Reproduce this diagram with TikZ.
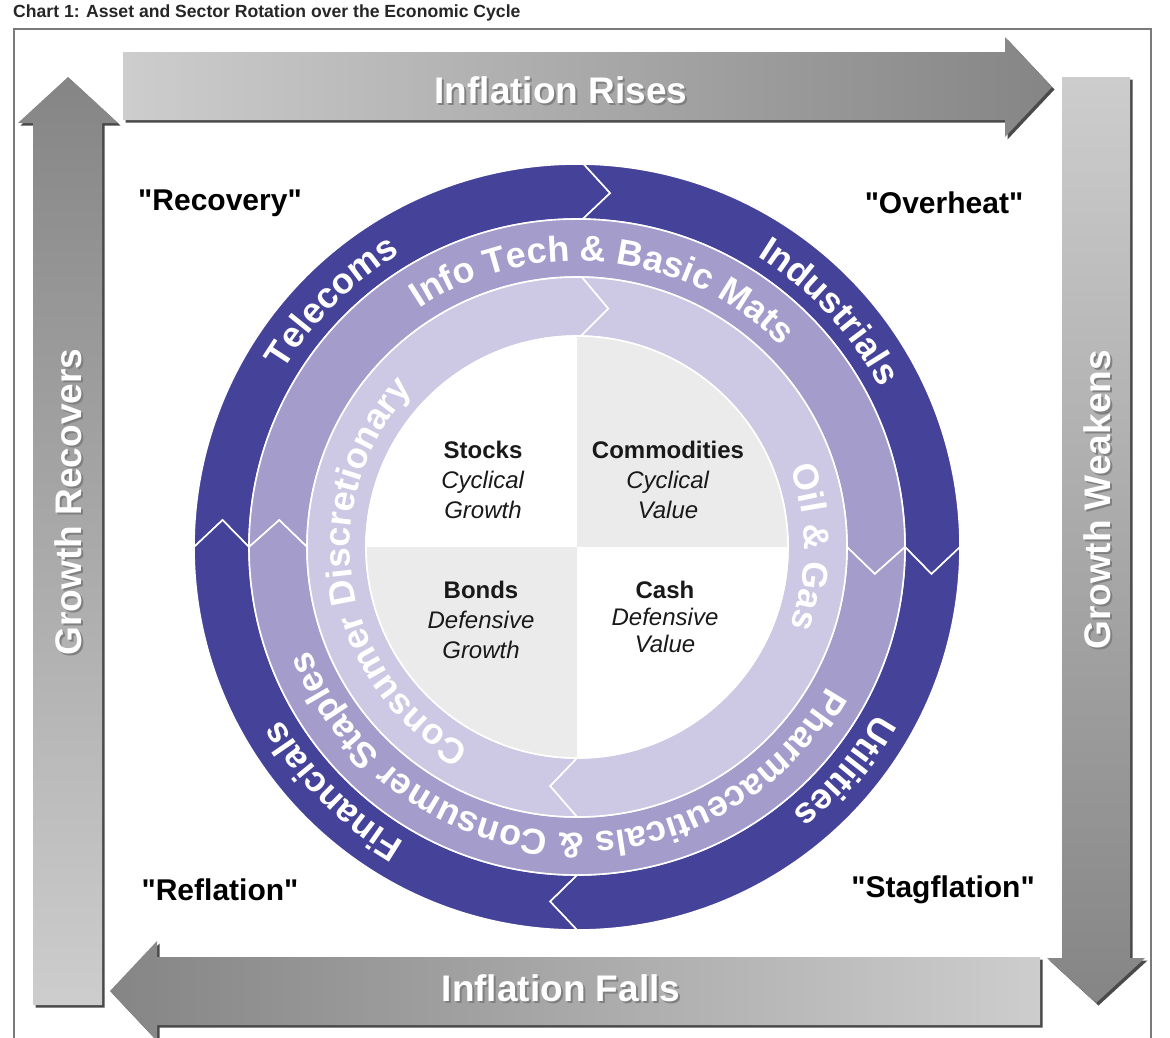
\documentclass[tikz,border=0pt]{standalone}
\usepackage{fontspec}
\setmainfont{Liberation Sans}
\newfontfamily\plainquotefont{Liberation Sans}
\usetikzlibrary{decorations.text}
\definecolor{darkring}{HTML}{45429A}
\definecolor{midring}{HTML}{A49DCC}
\definecolor{lightring}{HTML}{CDC8E3}
\definecolor{quadgray}{HTML}{EBEBEB}
\definecolor{arrowdark}{HTML}{858585}
\definecolor{arrowlight}{HTML}{CDCDCD}
\definecolor{shadowgray}{HTML}{4A4A4A}
\definecolor{framegray}{HTML}{7A7A7A}
\newcommand\ringseg[5]{%
  \pgfmathsetmacro\rsegmid{(#1+#2)/2}%
  \pgfmathsetmacro\rsegdd{27/\rsegmid*180/pi}%
  \pgfmathsetmacro\rsegaa{#3-\rsegdd}%
  \pgfmathsetmacro\rsegbb{#4-\rsegdd}%
  \filldraw[fill=#5, draw=white, line width=1.6pt, line join=miter]
    (#3:#2) arc[start angle=#3, end angle=#4, radius=#2]
    -- (\rsegbb:\rsegmid) -- (#4:#1)
    arc[start angle=#4, end angle=#3, radius=#1]
    -- (\rsegaa:\rsegmid) -- cycle;}
\newcommand\ringfont{\fontsize{36}{40}\selectfont\bfseries}
\newcommand\ringlabel[4]{%
  \path[decorate, decoration={text along path, text={|\ringfont|#4}, text align=center, text color=white}]
    (#2:#1) arc[start angle=#2, end angle=#3, radius=#1];}
\newcommand\qq{{\plainquotefont\bfseries"}}
\tikzset{
  arrowlbl/.style={text=white, font=\fontsize{37}{40}\selectfont\bfseries, inner sep=0pt},
  arrowshadow/.style={text=black!50, font=\fontsize{37}{40}\selectfont\bfseries, inner sep=0pt},
  phase/.style={text=black, font=\fontsize{30}{34}\selectfont\bfseries, inner sep=0pt},
  quadtxt/.style={text=black!90, font=\fontsize{24}{30}\selectfont, align=center, inner sep=0pt},
  arrshadow/.style={fill=shadowgray},
}
\begin{document}
\begin{tikzpicture}[x=1pt,y=1pt]
\useasboundingbox (0,0) rectangle (1170,-1037);
\fill[white] (0,0) rectangle (1170,-1037);
% title
\node[anchor=west, inner sep=0pt, font=\fontsize{17.6}{19}\selectfont\bfseries, text=black!85] (title) at (13,-13) {Chart 1: Asset and Sector Rotation over the Economic Cycle};
% frame
\draw[framegray, line width=2pt] (14,-1060) -- (14,-29) -- (1151,-29) -- (1151,-1060);

% top arrow
\fill[arrshadow, shift={(2.5,-2.5)}] (123,-52) -- (1005,-52) -- (1005,-37) -- (1052,-87) -- (1005,-137) -- (1005,-120) -- (123,-120) -- cycle;
\shade[left color=arrowlight, right color=arrowdark] (123,-52) -- (1005,-52) -- (1005,-37) -- (1052,-87) -- (1005,-137) -- (1005,-120) -- (123,-120) -- cycle;
% left arrow
\fill[arrshadow, shift={(2.5,-2.5)}] (33,-1005) -- (33,-123) -- (18,-123) -- (68,-77) -- (118,-123) -- (102,-123) -- (102,-1005) -- cycle;
\shade[top color=arrowdark, bottom color=arrowlight] (33,-1005) -- (33,-123) -- (18,-123) -- (68,-77) -- (118,-123) -- (102,-123) -- (102,-1005) -- cycle;
% right arrow
\fill[arrshadow, shift={(2.5,-2.5)}] (1062,-77) -- (1130,-77) -- (1130,-958) -- (1145,-958) -- (1096,-1003) -- (1047,-958) -- (1062,-958) -- cycle;
\shade[top color=arrowlight, bottom color=arrowdark] (1062,-77) -- (1130,-77) -- (1130,-958) -- (1145,-958) -- (1096,-1003) -- (1047,-958) -- (1062,-958) -- cycle;
% bottom arrow
\fill[arrshadow, shift={(2.5,-2.5)}] (1040,-957) -- (157,-957) -- (157,-941) -- (110,-991) -- (157,-1041) -- (157,-1025) -- (1040,-1025) -- cycle;
\shade[left color=arrowdark, right color=arrowlight] (1040,-957) -- (157,-957) -- (157,-941) -- (110,-991) -- (157,-1041) -- (157,-1025) -- (1040,-1025) -- cycle;

% arrow labels
\node[arrowshadow] (irs) at (563,-92) {Inflation Rises};
\node[arrowlbl] (ir) at (561,-90) {Inflation Rises};
\node[arrowshadow] (ifs) at (563,-990) {Inflation Falls};
\node[arrowlbl] (if) at (561,-988) {Inflation Falls};
\node[arrowshadow, rotate=90] (grs) at (70,-504) {Growth Recovers};
\node[arrowlbl, rotate=90] (gr) at (68,-502) {Growth Recovers};
\node[arrowshadow, rotate=90] (gws) at (1099,-502) {Growth Weakens};
\node[arrowlbl, rotate=90] (gw) at (1097,-500) {Growth Weakens};

% phases
\node[phase] (recovery) at (220,-203) {\qq Recovery\qq};
\node[phase] (overheat) at (944,-203) {\qq Overheat\qq};
\node[phase] (reflation) at (220,-890) {\qq Reflation\qq};
\node[phase] (stagflation) at (943,-890) {\qq Stagflation\qq};

% wheel
\begin{scope}[shift={(577,-547)}]
  % dark ring
  \ringseg{328}{383}{180}{89}{darkring}
  \ringseg{328}{383}{89}{0}{darkring}
  \ringseg{328}{383}{0}{-90}{darkring}
  \ringseg{328}{383}{-90}{-180}{darkring}
  % medium ring
  \ringseg{270}{328}{180}{0}{midring}
  \ringseg{270}{328}{0}{-180}{midring}
  % light ring
  \ringseg{211}{270}{89}{-90}{lightring}
  \ringseg{211}{270}{270}{89}{lightring}
  % inner disc
  \fill[white] (0,0) -- (90:211) arc[start angle=90, end angle=180, radius=211] -- cycle;
  \fill[quadgray] (0,0) -- (0:211) arc[start angle=0, end angle=90, radius=211] -- cycle;
  \fill[quadgray] (0,0) -- (180:211) arc[start angle=180, end angle=270, radius=211] -- cycle;
  \fill[white] (0,0) -- (270:211) arc[start angle=270, end angle=360, radius=211] -- cycle;
  \draw[white, line width=1.6pt] (0,0) circle[radius=211];
  % ring labels
  \ringlabel{342}{180}{90}{Telecoms}
  \ringlabel{342}{88}{-2}{Industrials}
  \ringlabel{342}{5}{-85}{Utilities}
  \ringlabel{342}{270}{180}{Financials}
  \ringlabel{286}{174}{-6}{Info Tech {\&} Basic Mats}
  \ringlabel{286}{26}{-214}{Pharmaceuticals {\&} Consumer Staples}
  \ringlabel{227}{279}{99}{Consumer Discretionary}
  \ringlabel{227}{60}{-60}{Oil {\&} Gas}
\end{scope}

% quadrant texts
\node[quadtxt] (stocks) at (483,-480) {\textbf{Stocks}\\\textit{Cyclical}\\\textit{Growth}};
\node[quadtxt] (commod) at (668,-480) {\textbf{Commodities}\\\textit{Cyclical}\\\textit{Value}};
\node[quadtxt] (bonds) at (481,-620) {\textbf{Bonds}\\\textit{Defensive}\\\textit{Growth}};
\node[quadtxt, font=\fontsize{24}{27}\selectfont] (cash) at (665,-617) {\textbf{Cash}\\\textit{Defensive}\\\textit{Value}};
\end{tikzpicture}
\end{document}
